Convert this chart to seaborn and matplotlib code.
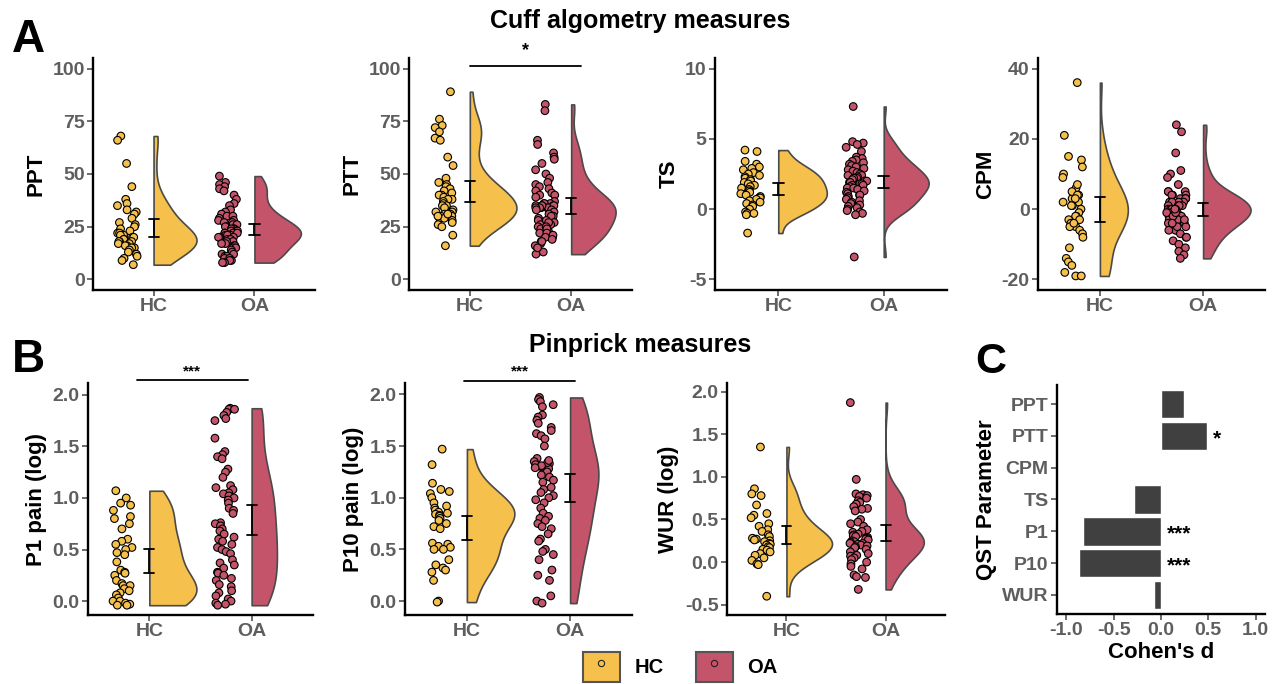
import numpy as np
import pandas as pd
import matplotlib
matplotlib.use("Agg")
import matplotlib.pyplot as plt
import seaborn as sns
from matplotlib.patches import Patch
from matplotlib.lines import Line2D

# ---------------- data ----------------
groups = ["HC", "OA"]

hc_ppt = [68, 66, 55, 44, 38, 36, 35, 33, 32, 31, 29, 27, 26, 25, 24, 23, 22, 22, 21, 21,
          20, 20, 19, 19, 18, 18, 18, 17, 17, 16, 16, 15, 15, 14, 13, 12, 11, 10, 9, 7]
oa_ppt = [49, 46, 45, 44, 43, 42, 40, 38, 36, 35, 33, 32, 31, 30, 30, 29, 28, 28, 27, 27,
          26, 26, 25, 25, 24, 24, 24, 23, 23, 23, 22, 22, 22, 22, 21, 21, 21, 20, 20, 20,
          19, 19, 18, 18, 17, 17, 16, 16, 15, 15, 14, 13, 12, 12, 11, 11, 10, 10, 9, 9, 8, 8]

hc_ptt = [89, 76, 73, 72, 70, 67, 66, 58, 54, 48, 46, 45, 44, 43, 42, 41, 40, 40, 39, 38,
          38, 37, 36, 35, 35, 34, 33, 32, 31, 32, 31, 30, 30, 29, 28, 26, 25, 21, 16, 27, 29, 30, 31]
oa_ptt = [83, 80, 66, 64, 60, 58, 57, 55, 52, 50, 48, 46, 45, 44, 43, 42, 41, 40, 40, 39,
          37, 36, 36, 36, 35, 35, 35, 34, 34, 34, 35, 35, 34, 34, 33, 33, 32, 31, 30, 30,
          29, 28, 27, 26, 26, 25, 24, 23, 22, 21, 20, 18, 17, 16, 13, 12,
          28, 27, 25, 24, 22, 21, 20, 19, 18, 15]

hc_ts = [4.2, 4.1, 3.4, 3.2, 3.0, 2.9, 2.8, 2.6, 2.5, 2.4, 2.3, 2.2, 2.1, 2.0, 1.9, 1.8, 1.7,
         1.6, 1.5, 1.4, 1.3, 1.2, 1.1, 1.0, 0.9, 0.8, 0.8, 0.7, 0.6, 0.5, 0.4, 0.3, 0.2, 0.0,
         -0.2, -0.3, -0.3, -0.4, -1.7]
oa_ts = [7.3, 4.8, 4.7, 4.6, 4.4, 4.1, 3.7, 3.6, 3.5, 3.4, 3.3, 3.2, 3.1, 3.0, 2.9, 2.8, 2.7,
         2.6, 2.5, 2.4, 2.4, 2.3, 2.2, 2.2, 2.1, 2.0, 2.0, 1.9, 1.9, 1.8, 1.8, 1.7, 1.7, 1.6,
         1.5, 1.5, 1.4, 1.3, 1.2, 1.1, 1.0, 1.0, 0.9, 0.8, 0.7, 0.6, 0.5, 0.4, 0.3, 0.2, 0.1,
         0.0, -0.1, -0.2, -0.3, -0.4, -3.4]

hc_cpm = [36, 21, 15, 14, 12, 10, 9, 4, 3, 2, 6, 5, 4, 3, 2, 1, 0, -1, -2, -2, -3, -3, -4,
          -5, -6, -11, -14, -15, -16, -18, -19, -19, -5, -7, 1, -4, -8, 7]
oa_cpm = [24, 22, 16, 11, 10, 9, 7, -6, -6, 5, 5, 5, 4, 4, 4, 3, 3, 3, 3, 2, 2, 2, 2, 1, 1,
          1, 1, 0, 0, 0, 0, -1, -1, -1, -2, -2, -2, -3, -3, -3, -4, -4, -5, -5, -6, -7, -8,
          -8, -9, -10, -11, -12, -13, -14, -1, -2, -3, -1, 0, -4]

hc_p1 = [1.07, 1.00, 0.95, 0.93, 0.88, 0.82, 0.80, 0.75, 0.70, 0.60, 0.58, 0.55, 0.52, 0.50,
         0.47, 0.45, 0.38, 0.30, 0.28, 0.27, 0.25, 0.20, 0.17, 0.15, 0.15, 0.12, 0.10, 0.08,
         0.06, 0.03, 0.00, 0.00, -0.02, -0.03, -0.04, -0.04]
oa_p1 = [1.87, 1.86, 1.86, 1.83, 1.80, 1.77, 1.75, 1.58, 1.45, 1.42, 1.40, 1.38, 1.28, 1.25,
         1.20, 1.12, 1.10, 1.08, 1.05, 1.04, 1.02, 1.00, 0.98, 0.95, 0.90, 0.88, 0.85, 0.76,
         0.75, 0.73, 0.70, 0.68, 0.65, 0.62, 0.60, 0.58, 0.55, 0.52, 0.50, 0.48, 0.46, 0.40,
         0.37, 0.35, 0.32, 0.28, 0.27, 0.25, 0.22, 0.20, 0.16, 0.14, 0.10, 0.08, 0.05, 0.02,
         0.00, -0.02, -0.03, -0.04]

hc_p10 = [1.47, 1.32, 1.14, 1.08, 1.06, 1.04, 1.00, 0.95, 0.92, 0.90, 0.88, 0.86, 0.85, 0.84,
          0.83, 0.82, 0.80, 0.78, 0.75, 0.72, 0.70, 0.56, 0.55, 0.53, 0.52, 0.50, 0.50, 0.40,
          0.35, 0.32, 0.30, 0.28, 0.20, 0.00, -0.01]
oa_p10 = [1.97, 1.95, 1.93, 1.90, 1.88, 1.80, 1.78, 1.75, 1.72, 1.68, 1.65, 1.62, 1.60, 1.57,
          1.50, 1.38, 1.35, 1.33, 1.32, 1.30, 1.28, 1.25, 1.22, 1.20, 1.17, 1.15, 1.10, 1.08,
          1.05, 1.02, 1.00, 0.98, 0.95, 0.90, 0.85, 0.82, 0.80, 0.78, 0.75, 0.72, 0.70, 0.65,
          0.60, 0.58, 0.50, 0.48, 0.45, 0.40, 0.30, 0.25, 0.20, 0.05, 0.00, -0.02,
          1.34, 1.31, 1.29, 1.36]

hc_wur = [1.35, 0.86, 0.80, 0.78, 0.67, 0.57, 0.55, 0.52, 0.45, 0.42, 0.38, 0.36, 0.32, 0.30,
          0.28, 0.27, 0.26, 0.25, 0.24, 0.22, 0.21, 0.20, 0.18, 0.17, 0.15, 0.14, 0.12, 0.10,
          0.08, 0.05, 0.02, -0.02, -0.03, -0.40]
oa_wur = [1.87, 0.97, 0.80, 0.79, 0.78, 0.77, 0.75, 0.72, 0.70, 0.68, 0.65, 0.63, 0.62, 0.60,
          0.50, 0.47, 0.45, 0.42, 0.38, 0.36, 0.35, 0.33, 0.32, 0.31, 0.30, 0.29, 0.28, 0.27,
          0.26, 0.25, 0.24, 0.23, 0.22, 0.22, 0.21, 0.20, 0.19, 0.18, 0.17, 0.15, 0.12, 0.10,
          0.08, 0.07, 0.05, 0.03, 0.00, -0.02, -0.05, -0.08, -0.15, -0.17, -0.18, -0.32]

qst_params = ["PPT", "PTT", "CPM", "TS", "P1", "P10", "WUR"]
cohens_d = [0.245, 0.49, -0.01, -0.29, -0.83, -0.87, -0.07]
qst_stars = ["", "*", "", "", "***", "***", ""]

# ---------------- style ----------------
HC_COLOR = "#F6C04C"
OA_COLOR = "#C3546A"
PAL = {"_a": "white", "HC": HC_COLOR, "_b": "white", "OA": OA_COLOR}
HUE_ORDER = ["_a", "HC", "_b", "OA"]
TICK_COLOR = "#5e5e5e"

sns.set_style("ticks")
plt.rcParams["font.family"] = ["Liberation Sans", "DejaVu Sans"]
plt.rcParams["font.weight"] = "bold"
plt.rcParams["axes.unicode_minus"] = False
plt.rcParams["text.color"] = "black"
plt.rcParams["axes.labelcolor"] = "black"

np.random.seed(11)

W, H = 1276, 684
fig = plt.figure(figsize=(W / 100, H / 100), dpi=100)
fig.patch.set_facecolor("white")


def add_ax(l, r, t, b):
    return fig.add_axes([l / W, 1 - b / H, (r - l) / W, (b - t) / H])


def style(ax):
    for s in ["top", "right"]:
        ax.spines[s].set_visible(False)
    for s in ["left", "bottom"]:
        ax.spines[s].set_linewidth(1.7)
        ax.spines[s].set_color("black")
    ax.tick_params(axis="both", colors="#444444", labelcolor=TICK_COLOR,
                   labelsize=14, length=4, width=1.1, pad=2)
    for lab in ax.get_xticklabels() + ax.get_yticklabels():
        lab.set_fontweight("bold")
    ax.set_facecolor("white")


VW = 0.46


def raincloud(ax, hc, oa, ylabel, ylim, yticks):
    df = pd.DataFrame({"group": ["HC"] * len(hc) + ["OA"] * len(oa),
                       "value": list(hc) + list(oa)})
    pos = df["group"].map({"HC": 1.0, "OA": 2.0})
    df["pos"] = pos
    df["vpos"] = pos + VW / 2
    df["ppos"] = pos - 0.26
    sns.violinplot(data=df, x="vpos", y="value", hue="group", hue_order=HUE_ORDER,
                   palette=PAL, split=True, dodge=False, native_scale=True, inner=None,
                   cut=0, width=VW, density_norm="area", common_norm=True, bw_adjust=0.9,
                   linecolor="#4a4a4a", linewidth=1.2, saturation=1, legend=False, ax=ax)
    sns.stripplot(data=df, x="ppos", y="value", hue="group", hue_order=groups,
                  palette=PAL, native_scale=True, jitter=0.1, size=5.5, linewidth=0.8,
                  edgecolor="black", legend=False, ax=ax)
    sns.pointplot(data=df, x="pos", y="value", native_scale=True, errorbar=("se", 1.96),
                  capsize=0.1, color="black", linestyle="none", marker="",
                  err_kws={"linewidth": 1.3}, ax=ax)
    ax.set_xlim(0.4, 2.6)
    ax.set_xticks([1, 2])
    ax.set_xticklabels(groups)
    ax.set_ylim(*ylim)
    ax.set_yticks(yticks)
    ax.set_xlabel("")
    ax.set_ylabel(ylabel, fontsize=16, fontweight="bold", color="black", labelpad=4)
    style(ax)


def sigbar(ax, x0, x1, y, ytext, text, fs):
    ax.plot([x0, x1], [y, y], color="black", lw=1.3, clip_on=False, zorder=5)
    ax.text((x0 + x1) / 2, ytext, text, ha="center", va="center", fontsize=fs,
            fontweight="bold", color="black", clip_on=False)


# Row A
a1 = add_ax(93, 315, 58, 290)
raincloud(a1, hc_ppt, oa_ppt, "PPT", (-5, 105), [0, 25, 50, 75, 100])
a2 = add_ax(409, 632, 58, 290)
raincloud(a2, hc_ptt, oa_ptt, "PTT", (-5, 105), [0, 25, 50, 75, 100])
sigbar(a2, 1.0, 2.1, 101, 108.5, "*", 13)
a3 = add_ax(715, 947, 58, 290)
raincloud(a3, hc_ts, oa_ts, "TS", (-5.75, 10.75), [-5, 0, 5, 10])
a4 = add_ax(1038, 1265, 58, 290)
raincloud(a4, hc_cpm, oa_cpm, "CPM", (-23, 43), [-20, 0, 20, 40])

# Row B
b1 = add_ax(88, 313, 383, 615)
raincloud(b1, hc_p1, oa_p1, "P1 pain (log)", (-0.135, 2.115), [0, 0.5, 1.0, 1.5, 2.0])
sigbar(b1, 0.88, 1.96, 2.14, 2.23, "***", 11)
b2 = add_ax(405, 632, 383, 615)
raincloud(b2, hc_p10, oa_p10, "P10 pain (log)", (-0.135, 2.11), [0, 0.5, 1.0, 1.5, 2.0])
sigbar(b2, 0.97, 2.05, 2.13, 2.22, "***", 11)
b3 = add_ax(727, 945, 383, 615)
raincloud(b3, hc_wur, oa_wur, "WUR (log)", (-0.62, 2.1), [-0.5, 0, 0.5, 1.0, 1.5, 2.0])

# Panel C
c = add_ax(1057, 1265, 385, 614)
dfc = pd.DataFrame({"param": qst_params, "d": cohens_d})
sns.barplot(data=dfc, x="d", y="param", orient="h", color="#404040", saturation=1,
            width=0.9, ax=c)
c.set_xlim(-1.1, 1.1)
c.set_xticks([-1.0, -0.5, 0.0, 0.5, 1.0])
c.set_xticklabels(["-1.0", "-0.5", "0.0", "0.5", "1.0"])
c.set_ylim(6.6, -0.6)
c.set_xlabel("Cohen's d", fontsize=16, fontweight="bold", color="black", labelpad=2)
c.set_ylabel("QST Parameter", fontsize=16, fontweight="bold", color="black", labelpad=4)
style(c)
for i, (d, s) in enumerate(zip(cohens_d, qst_stars)):
    if s:
        c.text(max(d, 0) + 0.06, i + 0.08, s, ha="left", va="center", fontsize=15,
               fontweight="bold", color="black")

# Titles and panel letters
fig.text(640 / W, 1 - 21 / H, "Cuff algometry measures", ha="center", va="center",
         fontsize=18, fontweight="bold", color="black")
fig.text(640 / W, 1 - 345 / H, "Pinprick measures", ha="center", va="center",
         fontsize=18, fontweight="bold", color="black")
fig.text(12 / W, 1 - 52 / H, "A", ha="left", va="baseline", fontsize=33, fontweight="bold")
fig.text(12 / W, 1 - 372 / H, "B", ha="left", va="baseline", fontsize=33, fontweight="bold")
fig.text(975 / W, 1 - 373 / H, "C", ha="left", va="baseline", fontsize=31, fontweight="bold")

# Legend
handles = [
    (Patch(facecolor=HC_COLOR, edgecolor="#555555", linewidth=1.5),
     Line2D([], [], marker="o", ls="", ms=4.5, mfc=HC_COLOR, mec="#222222", mew=0.8)),
    (Patch(facecolor=OA_COLOR, edgecolor="#555555", linewidth=1.5),
     Line2D([], [], marker="o", ls="", ms=4.5, mfc=OA_COLOR, mec="#222222", mew=0.8)),
]
fig.legend(handles, groups, loc="center", bbox_to_anchor=(680 / W, 1 - 667 / H), ncol=2,
           frameon=False, fontsize=14.5, handlelength=1.85, handleheight=1.85,
           handletextpad=0.7, columnspacing=1.6, borderaxespad=0)

fig.savefig("out.png", dpi=100, facecolor="white")
